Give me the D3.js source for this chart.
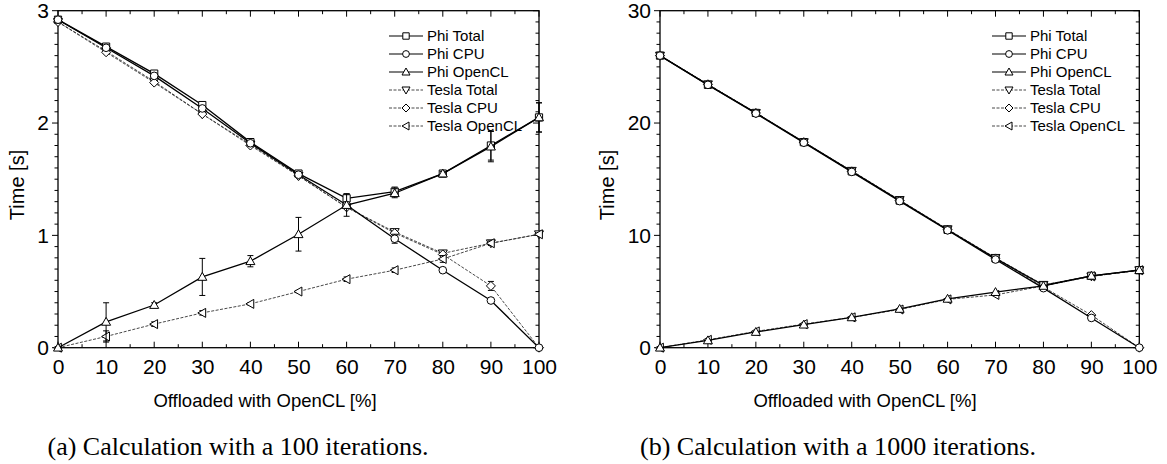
<!DOCTYPE html>
<html><head><meta charset="utf-8">
<script src="https://cdn.jsdelivr.net/npm/d3@7"></script>
<style>
body{margin:0;background:#fff;}
svg{display:block;}
text{font-family:"Liberation Sans",Arial,sans-serif;fill:#000;}
.cap{font-family:"Liberation Serif","Times New Roman",serif;}
</style></head><body>
<svg id="c" width="1167" height="464"></svg>
<script>
const offload = [0,10,20,30,40,50,60,70,80,90,100];
const xTicks = [0,10,20,30,40,50,60,70,80,90,100];
const seriesNames = ["Phi Total","Phi CPU","Phi OpenCL","Tesla Total","Tesla CPU","Tesla OpenCL"];

// (a) 100 iterations
const phiTotal100   = [2.92,2.68,2.44,2.16,1.83,1.55,1.33,1.39,1.55,1.80,2.05];
const phiTotalErr100= [0,0.01,0.01,0.02,0.01,0.01,0.04,0.04,0.02,0.13,0.13];
const phiCPU100     = [2.92,2.67,2.42,2.13,1.82,1.54,1.27,0.97,0.69,0.42,0];
const phiCPUErr100  = [0,0.01,0.01,0.01,0.01,0.01,0.01,0.04,0.02,0.01,0];
const phiOpenCL100  = [0,0.23,0.38,0.63,0.77,1.01,1.27,1.375,1.55,1.79,2.05];
const phiOpenCLErr100=[0,0.17,0.02,0.165,0.05,0.15,0.10,0.04,0.02,0.135,0.13];
const teslaTotal100 = [2.90,2.64,2.37,2.08,1.81,1.53,1.25,1.03,0.84,0.93,1.01];
const teslaCPU100   = [2.90,2.63,2.36,2.08,1.80,1.53,1.25,1.02,0.83,0.55,0];
const teslaCPUErr100= [0,0.01,0.01,0.01,0.01,0.01,0.01,0.01,0.01,0.04,0];
const teslaOpenCL100= [0,0.10,0.21,0.31,0.39,0.50,0.61,0.69,0.79,0.93,1.01];
const teslaOpenCLErr100=[0,0.05,0.02,0.02,0.01,0.01,0.02,0.02,0.03,0.02,0.01];
const yTicks100 = [0,1,2,3];

// (b) 1000 iterations
const phiTotal1000   = [26.0,23.4,20.9,18.3,15.7,13.1,10.5,7.95,5.55,6.4,6.9];
const phiCPU1000     = [26.0,23.4,20.85,18.25,15.65,13.05,10.45,7.85,5.3,2.65,0];
const phiOpenCL1000  = [0,0.65,1.4,2.05,2.7,3.45,4.35,4.95,5.5,6.4,6.9];
const teslaTotal1000 = [26.0,23.45,20.9,18.3,15.75,13.15,10.55,8.0,5.6,6.35,6.9];
const teslaCPU1000   = [26.0,23.45,20.9,18.3,15.7,13.1,10.5,7.95,5.4,2.9,0];
const teslaOpenCL1000= [0,0.7,1.45,2.1,2.7,3.4,4.3,4.7,5.5,6.35,6.9];
const yTicks1000 = [0,10,20,30];

const captions = ["(a) Calculation with a 100 iterations.","(b) Calculation with a 1000 iterations."];
const xTitle = "Offloaded with OpenCL [%]";
const yTitle = "Time [s]";

const svg = d3.select("#c");

function markerPath(kind, s){
  if(kind===0) return `M${-s*0.8},${-s*0.8}H${s*0.8}V${s*0.8}H${-s*0.8}Z`;
  if(kind===1){const r=s*0.85;return `M${r},0A${r},${r},0,1,1,${-r},0A${r},${r},0,1,1,${r},0Z`;}
  if(kind===2) return `M0,${-s}L${s},${s*0.75}L${-s},${s*0.75}Z`;
  if(kind===3) return `M0,${s}L${s},${-s*0.75}L${-s},${-s*0.75}Z`;
  if(kind===4) return `M0,${-s}L${s},0L0,${s}L${-s},0Z`;
  if(kind===5) return `M${-s},0L${s*0.75},${-s}L${s*0.75},${s}Z`;
}

function drawChart(cfg){
  const x = d3.scaleLinear().domain([0,100]).range([cfg.x0,cfg.x1]);
  const y = d3.scaleLinear().domain([0,cfg.ymax]).range([347.7,10.7]);
  const g = svg.append("g");
  const [X0,X1] = x.range(), [Y0,Y1] = y.range();

  const xMinor = d3.range(0,101,5);
  const yMinor = d3.range(0,cfg.ymax+1e-9,cfg.ymax/30);
  const tk = g.append("g").attr("stroke","#000").attr("stroke-width",1);
  xMinor.forEach(v=>{
    const L = (v%10===0)?6:3.5;
    tk.append("line").attr("x1",x(v)).attr("x2",x(v)).attr("y1",Y0).attr("y2",Y0-L);
    tk.append("line").attr("x1",x(v)).attr("x2",x(v)).attr("y1",Y1).attr("y2",Y1+L);
  });
  yMinor.forEach((v,i)=>{
    const L = (i%10===0)?6:3.5;
    tk.append("line").attr("x1",X0).attr("x2",X0-L).attr("y1",y(v)).attr("y2",y(v));
    tk.append("line").attr("x1",X1).attr("x2",X1-L).attr("y1",y(v)).attr("y2",y(v));
  });
  g.append("rect").attr("x",X0).attr("y",Y1).attr("width",X1-X0).attr("height",Y0-Y1)
    .attr("fill","none").attr("stroke","#000").attr("stroke-width",1.3);

  const xa = g.append("g").attr("transform",`translate(0,${Y0})`)
    .call(d3.axisBottom(x).tickValues(xTicks).tickSize(0).tickPadding(11).tickFormat(d3.format("d")));
  xa.select(".domain").remove();
  xa.selectAll("text").attr("font-size",21).attr("font-family","Liberation Sans, Arial, sans-serif");
  const ya = g.append("g").attr("transform",`translate(${X0},0)`)
    .call(d3.axisLeft(y).tickValues(cfg.yTicks).tickSize(0).tickPadding(9).tickFormat(d3.format("d")));
  ya.select(".domain").remove();
  ya.selectAll("text").attr("font-size",21).attr("font-family","Liberation Sans, Arial, sans-serif");

  g.append("text").attr("x",cfg.xtx).attr("y",407).attr("text-anchor","middle")
    .attr("font-size",18.5).text(xTitle);
  g.append("text").attr("transform",`translate(${cfg.ytx},185) rotate(-90)`)
    .attr("text-anchor","middle").attr("dominant-baseline","central").attr("font-size",20).text(yTitle);
  g.append("text").attr("class","cap").attr("x",cfg.capx).attr("y",455).attr("text-anchor","middle")
    .attr("font-size",25).attr("textLength",cfg.capw).attr("lengthAdjust","spacingAndGlyphs").text(cfg.caption);

  const line = d3.line().x((d,i)=>x(offload[i])).y(d=>y(d));
  const plot = g.append("g");
  const order = [3,4,5,0,1,2];
  order.forEach(k=>{
    const s = cfg.series[k];
    const tesla = k>=3;
    const sg = plot.append("g");
    sg.append("path").datum(s.v).attr("d",line).attr("fill","none")
      .attr("stroke",tesla?"#333":"#000").attr("stroke-width",tesla?0.9:1.3)
      .attr("stroke-dasharray",tesla?"3,1.5":null);
    if(s.e){
      s.v.forEach((v,i)=>{
        const e=s.e[i]; if(!e) return;
        const xx=x(offload[i]);
        sg.append("line").attr("x1",xx).attr("x2",xx).attr("y1",y(v-e)).attr("y2",y(v+e)).attr("stroke","#000").attr("stroke-width",1);
        [v-e,v+e].forEach(w=>sg.append("line").attr("x1",xx-3).attr("x2",xx+3).attr("y1",y(w)).attr("y2",y(w)).attr("stroke","#000").attr("stroke-width",1));
      });
    }
    s.v.forEach((v,i)=>{
      sg.append("path").attr("d",markerPath(k,4.5)).attr("transform",`translate(${x(offload[i])},${y(v)})`)
        .attr("fill","#fff").attr("stroke","#000").attr("stroke-width",1);
    });
  });

  const lg = g.append("g");
  seriesNames.forEach((n,k)=>{
    const yy = 36 + 18*k;
    const tesla = k>=3;
    lg.append("line").attr("x1",cfg.lx).attr("x2",cfg.lx+34).attr("y1",yy).attr("y2",yy)
      .attr("stroke",tesla?"#333":"#000").attr("stroke-width",tesla?0.9:1.2)
      .attr("stroke-dasharray",tesla?"3,1.5":null);
    lg.append("path").attr("d",markerPath(k,4)).attr("transform",`translate(${cfg.lx+17},${yy})`)
      .attr("fill","#fff").attr("stroke","#000").attr("stroke-width",1);
    lg.append("text").attr("x",cfg.lx+38).attr("y",yy).attr("dy","0.35em").attr("font-size",15).text(n);
  });
}

drawChart({x0:58,x1:539,ymax:3,yTicks:yTicks100,xtx:265,ytx:17,capx:238,capw:381,lx:389,caption:captions[0],
  series:[{v:phiTotal100,e:phiTotalErr100},{v:phiCPU100,e:phiCPUErr100},{v:phiOpenCL100,e:phiOpenCLErr100},
          {v:teslaTotal100},{v:teslaCPU100,e:teslaCPUErr100},{v:teslaOpenCL100,e:teslaOpenCLErr100}]});
drawChart({x0:660,x1:1139.3,ymax:30,yTicks:yTicks1000,xtx:865,ytx:607,capx:838,capw:396,lx:992,caption:captions[1],
  series:[{v:phiTotal1000},{v:phiCPU1000},{v:phiOpenCL1000},
          {v:teslaTotal1000},{v:teslaCPU1000},{v:teslaOpenCL1000}]});
</script>
</body></html>
